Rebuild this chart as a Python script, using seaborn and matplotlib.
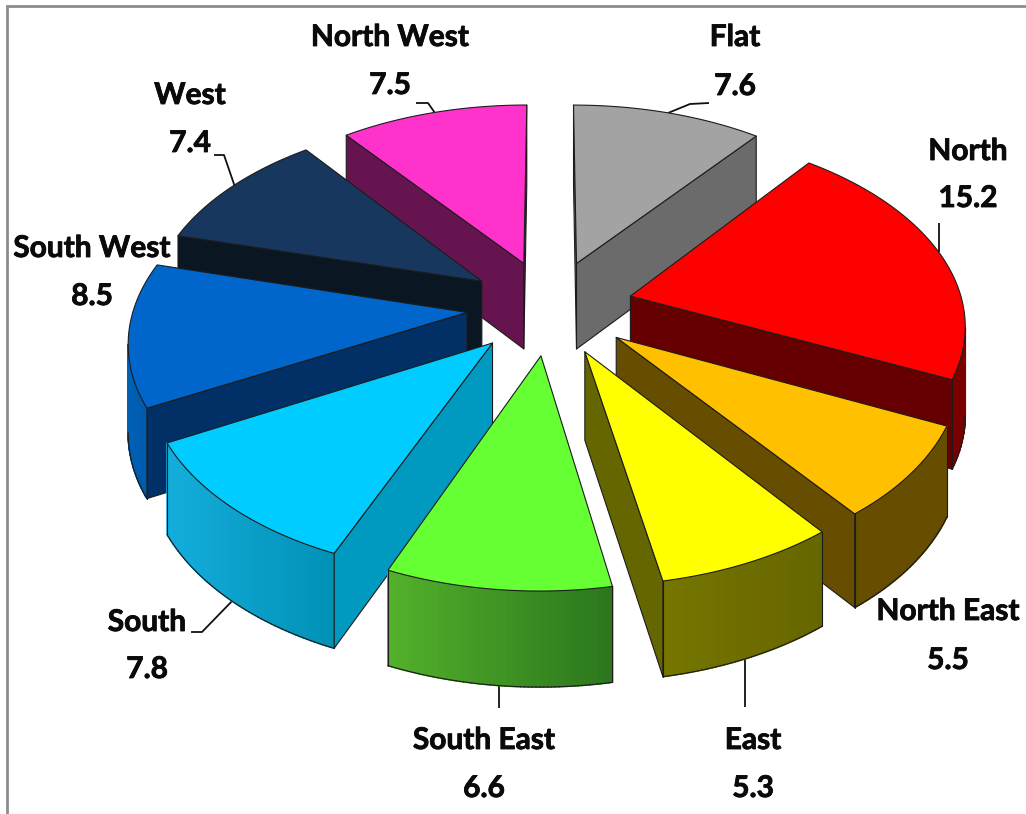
import numpy as np
import matplotlib
matplotlib.use("Agg")
import matplotlib.pyplot as plt
import matplotlib.patheffects as pe
from matplotlib.patches import Polygon
import seaborn as sns

categories = ["Flat", "North", "North East", "East", "South East", "South", "South West", "West", "North West"]
values = [7.6, 15.2, 5.5, 5.3, 6.6, 7.8, 8.5, 7.4, 7.5]
top_colors = ["#a3a3a3", "#ff0000", "#ffc000", "#ffff00", "#66ff33", "#00ccff", "#0066cc", "#17375e", "#ff33cc"]
side_colors = ["#6b6b6b", "#660000", "#664d00", "#666600", "#3f9a22", "#0099bf", "#003066", "#0a1723", "#66144f"]
wall_left = ["#6e6e6e", "#7a0000", "#664d00", "#757500", "#52b02a", "#14addb", "#0060b5", "#0a1723", "#66144f"]
wall_right = ["#6e6e6e", "#7a0000", "#664d00", "#666600", "#2b751c", "#0090b5", "#0055a5", "#0a1723", "#66144f"]

sns.set_theme(style="white")
plt.rcParams["font.family"] = ["Lato", "DejaVu Sans"]

W, H = 1026, 814
fig = plt.figure(figsize=(W / 100, H / 100), dpi=100, facecolor="white")
ax = fig.add_axes([0, 0, 1, 1])
ax.set_xlim(0, W)
ax.set_ylim(H, 0)
ax.axis("off")

CX, CY, A, B, PX, PY, PD, EXPLODE, DEPTH = 550, 307, 333, 190, 0.131, 0.132, 0.075, 0.25, 87
EDGE = "#1c1c1c"


def project(x, y, drop=0.0):
    return CX + A * x / (1 + PX * y), CY - B * y / (1 + PY * y) + drop / (1 + PD * y)


vals = np.array(values, dtype=float)
edges = np.concatenate([[0], np.cumsum(vals)]) / vals.sum() * 2 * np.pi
mids = (edges[:-1] + edges[1:]) / 2

zcount = [10]


def nextz():
    zcount[0] += 1
    return zcount[0]


def add_poly(pts, face, edge=EDGE, lw=0.8):
    ax.add_patch(Polygon(pts, closed=True, facecolor=face, edgecolor=edge, linewidth=lw,
                         joinstyle="round", zorder=nextz()))


def add_line(xs, ys, color=EDGE, lw=0.8):
    ax.plot(xs, ys, color=color, lw=lw, zorder=nextz())


def faces_viewer(p, q, inner):
    """A wall hanging below edge p-q shows when 'down' points away from the slice's top face."""
    ex, ey = q[0] - p[0], q[1] - p[1]
    return np.sign(ex) * np.sign(ex * (inner[1] - p[1]) - ey * (inner[0] - p[0])) < 0


order = np.argsort(-np.cos(mids), kind="stable")
for i in order:
    t0, t1 = edges[i], edges[i + 1]
    ox, oy = EXPLODE * np.sin(mids[i]), EXPLODE * np.cos(mids[i])
    thetas = np.linspace(t0, t1, 61)
    arc = [(ox + np.sin(t), oy + np.cos(t)) for t in thetas]
    top = [project(ox, oy)] + [project(x, y) for x, y in arc]
    bottom = [project(ox, oy, DEPTH)] + [project(x, y, DEPTH) for x, y in arc]
    inner = np.mean(top, axis=0)

    # outer curved wall, shaded left to right on the screen
    sx = np.array([p[0] for p in top[1:]])
    lo, hi = sx.min(), sx.max()
    grad = sns.blend_palette([wall_left[i], wall_right[i]], 32)
    visible = [faces_viewer(top[k + 1], top[k + 2], inner) for k in range(60)]
    for k in range(60):
        if not visible[k]:
            continue
        f = ((sx[k] + sx[k + 1]) / 2 - lo) / max(hi - lo, 1)
        c = grad[int(np.clip(f * 31, 0, 31))]
        add_poly([top[k + 1], top[k + 2], bottom[k + 2], bottom[k + 1]], c, edge=c, lw=1.2)
    for k in range(60):
        if visible[k]:
            add_line([bottom[k + 1][0], bottom[k + 2][0]], [bottom[k + 1][1], bottom[k + 2][1]])
    if visible[0]:
        add_line([top[1][0], bottom[1][0]], [top[1][1], bottom[1][1]])
    if visible[-1]:
        add_line([top[-1][0], bottom[-1][0]], [top[-1][1], bottom[-1][1]])

    # radial walls
    for end in (1, -1):
        if faces_viewer(top[0], top[end], inner):
            add_poly([top[0], top[end], bottom[end], bottom[0]], side_colors[i])

    add_poly(top, top_colors[i])

# leader lines
leaders = [
    ([668, 690, 709], [113, 104, 103]),
    ([939, 939], [223, 252]),
    ([745, 745], [655, 707]),
    ([499, 499], [684, 708]),
    ([236, 202, 191], [597, 632, 632]),
    ([235, 224, 214], [187, 155, 155]),
    ([435, 428, 416], [113, 103, 103]),
]
for xs, ys in leaders:
    ax.plot(xs, ys, color="#111111", lw=1.3, solid_capstyle="butt", zorder=5)

# labels
label_pos = {
    "Flat": (735, 37), "North": (968, 151), "North East": (948, 611), "East": (753, 740),
    "South East": (484, 740), "South": (147, 622), "South West": (92, 248), "West": (190, 95),
    "North West": (390, 37),
}
value_pos = {
    "Flat": (735, 86), "North": (968, 198), "North East": (948, 660), "East": (753, 788),
    "South East": (484, 788), "South": (147, 669), "South West": (92, 296), "West": (190, 143),
    "North West": (390, 85),
}
for name, v in zip(categories, values):
    for txt, pos in ((name, label_pos[name]), (f"{v:.1f}", value_pos[name])):
        ax.text(pos[0], pos[1], txt, ha="center", va="center", fontsize=21.5,
                fontweight="bold", color="#0a0a0a", zorder=50000,
                path_effects=[pe.withStroke(linewidth=0.6, foreground="#0a0a0a")])

# frame of the original picture
ax.plot([W, 7, 7], [6, 6, H], color="#8c8c8c", lw=2, solid_joinstyle="miter", zorder=2)

fig.savefig("out.png", dpi=100, facecolor="white")
